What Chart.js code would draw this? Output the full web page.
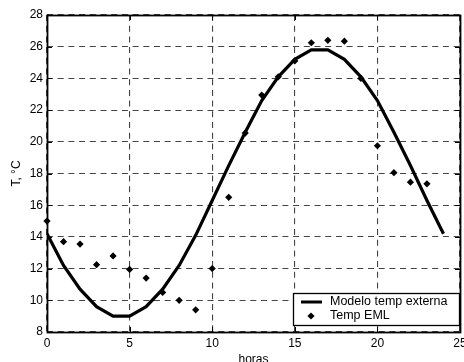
<!DOCTYPE html>
<html>
<head>
<meta charset="utf-8">
<script src="https://cdn.jsdelivr.net/npm/chart.js@4/dist/chart.umd.min.js"></script>
<style>
  html, body { margin: 0; padding: 0; overflow: hidden; background: #fff; }
  #wrap { width: 480px; height: 372px; }
</style>
</head>
<body>
<div id="wrap"><canvas id="c" width="480" height="372"></canvas></div>
<script>
// ── DATA ──────────────────────────────────────────────────────────────────────
const hours     = [0,1,2,3,4,5,6,7,8,9,10,11,12,13,14,15,16,17,18,19,20,21,22,23,24];
const modelTemp = [14.2,12.2,10.7,9.6,9.0,9.0,9.6,10.7,12.2,14.1,16.3,18.5,20.6,22.6,24.1,25.2,25.8,25.8,25.2,24.1,22.6,20.6,18.5,16.3,14.2];
const emlHours  = [0,1,2,3,4,5,6,7,8,9,10,11,12,13,14,15,16,17,18,19,20,21,22,23];
const emlTemp   = [15.0,13.7,13.55,12.25,12.8,11.95,11.4,10.5,10.0,9.4,12.0,16.5,20.55,22.95,24.1,25.1,26.25,26.4,26.35,24.0,19.75,18.05,17.45,17.35];
const xRange = [0, 25, 5];   // min, max, step
const yRange = [8, 28, 2];
const labels = ['Modelo temp externa', 'Temp EML'];

const FONT = { family: "'Liberation Sans', Arial, sans-serif", size: 12 };

// ── PLUGINS: frame with inward ticks + boxed legend ──────────────────────────
const frame = {
  id: 'frame',
  afterDatasetsDraw(chart) {
    const { ctx, chartArea: a, scales: { x, y } } = chart;
    ctx.save();
    ctx.strokeStyle = '#000';
    ctx.lineWidth = 1;
    ctx.beginPath();
    x.ticks.forEach(t => {
      const px = Math.round(x.getPixelForValue(t.value)) + 0.5;
      ctx.moveTo(px, a.bottom); ctx.lineTo(px, a.bottom - 5);
      ctx.moveTo(px, a.top);    ctx.lineTo(px, a.top + 5);
    });
    y.ticks.forEach(t => {
      const py = Math.round(y.getPixelForValue(t.value)) + 0.5;
      ctx.moveTo(a.left, py);  ctx.lineTo(a.left + 5, py);
      ctx.moveTo(a.right, py); ctx.lineTo(a.right - 5, py);
    });
    ctx.stroke();
    ctx.lineWidth = 1.8;
    ctx.strokeRect(a.left + 0.5, a.top + 0.5, a.right - a.left, a.bottom - a.top);
    ctx.restore();
  }
};

const boxLegend = {
  id: 'boxLegend',
  afterDraw(chart) {
    const { ctx, chartArea: a } = chart;
    const w = 166, h = 32;
    const bx = a.right - 167, by = a.bottom - 39;
    ctx.save();
    ctx.fillStyle = '#fff';
    ctx.fillRect(bx, by, w, h);
    ctx.strokeStyle = '#000';
    ctx.lineWidth = 1.3;
    ctx.strokeRect(bx + 0.5, by + 0.5, w, h);
    // line sample
    ctx.lineWidth = 3;
    ctx.beginPath();
    ctx.moveTo(bx + 8, by + 9); ctx.lineTo(bx + 29, by + 9);
    ctx.stroke();
    // diamond sample
    ctx.fillStyle = '#000';
    ctx.beginPath();
    const dx = bx + 18, dy = by + 23, r = 3.6;
    ctx.moveTo(dx, dy - r); ctx.lineTo(dx + r, dy); ctx.lineTo(dx, dy + r); ctx.lineTo(dx - r, dy);
    ctx.closePath(); ctx.fill();
    ctx.font = `12.5px ${FONT.family}`;
    ctx.textBaseline = 'middle';
    ctx.fillText(labels[0], bx + 37, by + 9);
    ctx.fillText(labels[1], bx + 37, by + 23);
    ctx.restore();
  }
};

// ── CHART ─────────────────────────────────────────────────────────────────────
new Chart(document.getElementById('c'), {
  type: 'scatter',
  data: {
    datasets: [
      {
        label: labels[0], type: 'line',
        data: hours.map((h, i) => ({ x: h, y: modelTemp[i] })),
        borderColor: '#000', borderWidth: 3.2, pointRadius: 0, tension: 0, fill: false
      },
      {
        label: labels[1],
        data: emlHours.map((h, i) => ({ x: h, y: emlTemp[i] })),
        pointStyle: 'rectRot', pointRadius: 3.6, backgroundColor: '#000', borderColor: '#000',
        borderWidth: 0, showLine: false, clip: false
      }
    ]
  },
  options: {
    responsive: false, animation: false,
    layout: { padding: { left: 0, right: 20, top: 15, bottom: 0 } },
    plugins: { legend: { display: false }, tooltip: { enabled: false } },
    scales: {
      x: {
        type: 'linear', min: xRange[0], max: xRange[1],
        afterFit: s => { s.height = 40; },
        ticks: { stepSize: xRange[2], padding: 4, color: '#000', font: FONT, maxRotation: 0 },
        grid: { color: '#444', lineWidth: 1.1, drawTicks: false },
        border: { display: false, dash: [6, 4.7] },
        title: { display: true, text: 'horas', color: '#000', font: FONT, padding: { top: 0, bottom: 4.8 } }
      },
      y: {
        min: yRange[0], max: yRange[1],
        afterFit: s => { s.width = 47; },
        ticks: { stepSize: yRange[2], padding: 4, color: '#000', font: FONT },
        grid: { color: '#444', lineWidth: 1.1, drawTicks: false },
        border: { display: false, dash: [6, 4.7] },
        title: { display: true, text: 'T, °C', color: '#000', font: FONT, padding: { top: 9.3, bottom: 0 } }
      }
    }
  },
  plugins: [frame, boxLegend]
});
</script>
</body>
</html>
